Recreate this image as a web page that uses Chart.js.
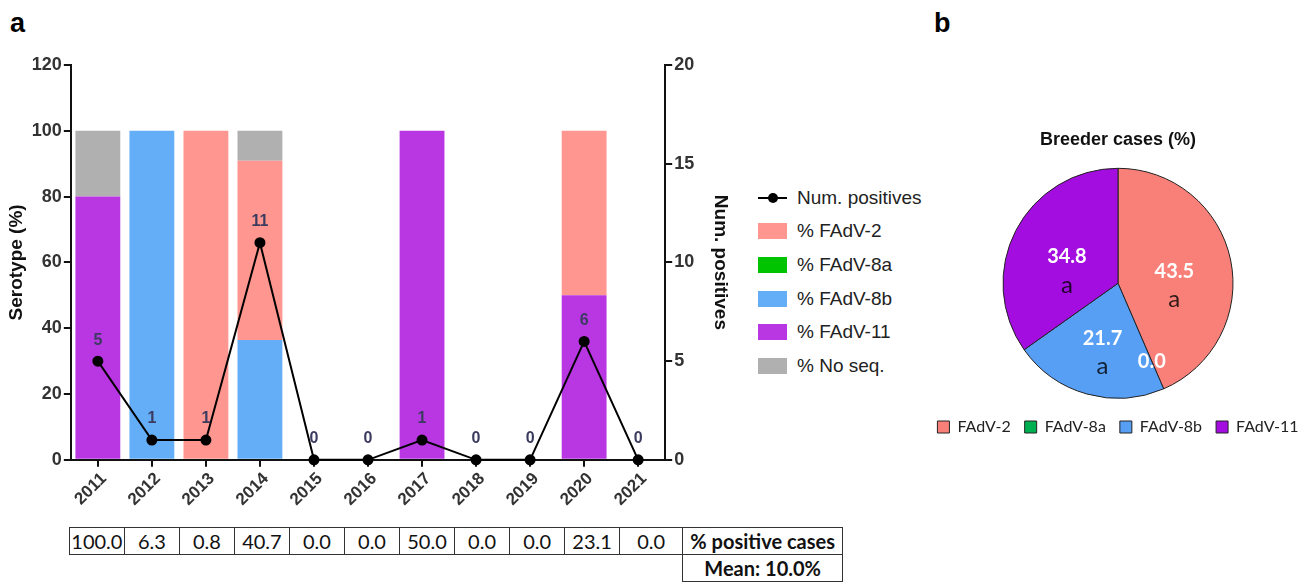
<!DOCTYPE html>
<html>
<head>
<meta charset="utf-8">
<script src="https://cdn.jsdelivr.net/npm/chart.js@4.4.1/dist/chart.umd.min.js"></script>
<style>
    body { margin: 0; background: #fff; width: 1315px; height: 583px; position: relative; overflow: hidden; font-family: "Liberation Sans", Arial, sans-serif; }
    .panel { position: absolute; font-weight: bold; font-size: 27px; color: #000; }
    canvas { position: absolute; }
    #legendA { position: absolute; left: 758px; top: 181px; }
    .item { height: 33.6px; display: flex; align-items: center; font-size: 19px; color: #222; }
    .swatch { width: 29px; height: 16px; margin-right: 10px; }
    .lineIcon { width: 29px; height: 2px; background: #000; position: relative; margin-right: 10px; }
    .lineIcon::after { content: ""; position: absolute; left: 10px; top: -4px; width: 10px; height: 10px; border-radius: 50%; background: #000; }
    #posTable { position: absolute; top: 527px; border-collapse: collapse; table-layout: fixed; font-family: Lato, "Open Sans", sans-serif; font-size: 20px; color: #111; }
    #posTable td { border: 1.5px solid #333; text-align: center; height: 26px; padding: 0; white-space: nowrap; }
    #posTable td.blank { border: none; }
    #posTable td.bold { font-weight: bold; }
</style>
</head>
<body>
<div class="panel" style="left:10px; top:8px;">a</div>
<div class="panel" style="left:934px; top:8px;">b</div>

<canvas id="barChart" width="740" height="527" style="left:0; top:0;"></canvas>
<div id="legendA"></div>
<table id="posTable"></table>

<canvas id="pieChart" width="410" height="445" style="left:905px; top:0;"></canvas>

<script>
// ---------------- DATA ----------------
const years = ["2011", "2012", "2013", "2014", "2015", "2016", "2017", "2018", "2019", "2020", "2021"];
const numPositives = [5, 1, 1, 11, 0, 0, 1, 0, 0, 6, 0];
const pctFAdV2  = [0, 0, 100, 54.5, 0, 0, 0, 0, 0, 50, 0];
const pctFAdV8a = [0, 0, 0, 0, 0, 0, 0, 0, 0, 0, 0];
const pctFAdV8b = [0, 100, 0, 36.4, 0, 0, 0, 0, 0, 0, 0];
const pctFAdV11 = [80, 0, 0, 0, 0, 0, 100, 0, 0, 50, 0];
const pctNoSeq  = [20, 0, 0, 9.1, 0, 0, 0, 0, 0, 0, 0];
const positiveCases = ["100.0", "6.3", "0.8", "40.7", "0.0", "0.0", "50.0", "0.0", "0.0", "23.1", "0.0"];
const meanPositive = "Mean: 10.0%";

const pieLabels = ["FAdV-2", "FAdV-8a", "FAdV-8b", "FAdV-11"];
const pieValues = [43.5, 0.0, 21.7, 34.8];
const pieLetters = ["a", "", "a", "a"];

// ---------------- COLOURS ----------------
const barColors = { "FAdV-2": "#ff968f", "FAdV-8a": "#00c400", "FAdV-8b": "#64aef8", "FAdV-11": "#b937e3", "No seq.": "#b0b0b0" };
const pieColors = ["#f98078", "#00b050", "#569ff5", "#a30de0"];

// ---------------- PLUGINS ----------------
const pointLabels = {
    id: "pointLabels",
    afterDatasetsDraw(chart) {
        const idx = chart.data.datasets.findIndex(d => d.type === "line");
        const meta = chart.getDatasetMeta(idx);
        const ctx = chart.ctx;
        ctx.save();
        ctx.font = 'bold 16px "Liberation Sans"';
        ctx.fillStyle = "#3b3b60";
        ctx.textAlign = "center";
        ctx.textBaseline = "middle";
        meta.data.forEach((pt, i) => ctx.fillText(numPositives[i], pt.x, pt.y - 21));
        ctx.restore();
    }
};

const pieValueLabels = {
    id: "pieValueLabels",
    afterDatasetsDraw(chart) {
        const ctx = chart.ctx;
        ctx.save();
        ctx.textAlign = "center";
        ctx.textBaseline = "middle";
        chart.getDatasetMeta(0).data.forEach((arc, i) => {
            const p = arc.getProps(["x", "y", "startAngle", "endAngle", "outerRadius"]);
            const mid = (p.startAngle + p.endAngle) / 2;
            const r = pieValues[i] > 0 ? p.outerRadius * 0.5 : p.outerRadius * 0.74;
            const cx = p.x + Math.cos(mid) * r;
            const cy = p.y + Math.sin(mid) * r;
            ctx.font = "bold 20px Lato";
            ctx.fillStyle = "#fff";
            ctx.fillText(pieValues[i].toFixed(1), cx, cy);
            if (pieLetters[i]) {
                ctx.font = "24px Lato";
                ctx.fillStyle = "rgba(0,0,0,0.8)";
                ctx.fillText(pieLetters[i], cx, cy + 28);
            }
        });
        ctx.restore();
    }
};

// ---------------- BAR + LINE CHART ----------------
const axisColor = "#111";
const tickFont = { family: "Liberation Sans", size: 18, weight: "bold" };
const titleFont = { family: "Liberation Sans", size: 19, weight: "bold" };

const barSeries = [
    ["% FAdV-8b", pctFAdV8b, barColors["FAdV-8b"]],
    ["% FAdV-11", pctFAdV11, barColors["FAdV-11"]],
    ["% FAdV-8a", pctFAdV8a, barColors["FAdV-8a"]],
    ["% FAdV-2", pctFAdV2, barColors["FAdV-2"]],
    ["% No seq.", pctNoSeq, barColors["No seq."]]
];

const barChart = new Chart("barChart", {
    data: {
        labels: years,
        datasets: [
            {
                type: "line",
                label: "Num. positives",
                data: numPositives,
                yAxisID: "y1",
                borderColor: "#000",
                backgroundColor: "#000",
                borderWidth: 2,
                pointRadius: 4.5,
                tension: 0,
                order: 0,
                clip: false
            },
            ...barSeries.map(([label, data, color]) => ({
                type: "bar",
                label: label,
                data: data,
                yAxisID: "y",
                backgroundColor: color,
                borderWidth: 0,
                barPercentage: 0.83,
                categoryPercentage: 1,
                order: 2
            }))
        ]
    },
    options: {
        responsive: false,
        animation: false,
        layout: { padding: { top: 65, left: 3, right: 2, bottom: 15 } },
        plugins: { legend: { display: false }, tooltip: { enabled: false } },
        scales: {
            x: {
                stacked: true,
                grid: { display: true, offset: false, drawOnChartArea: false, drawTicks: true, tickLength: 7, color: axisColor, lineWidth: 2 },
                border: { display: true, color: axisColor, width: 2 },
                ticks: { font: { family: "Liberation Sans", size: 17, weight: "bold" }, color: "#333", maxRotation: 45, minRotation: 45, padding: 2, labelOffset: 6 }
            },
            y: {
                stacked: true,
                position: "left",
                min: 0,
                max: 120,
                grid: { display: true, drawOnChartArea: false, drawTicks: true, tickLength: 7, color: axisColor, lineWidth: 2 },
                border: { display: true, color: axisColor, width: 2 },
                ticks: { stepSize: 20, font: tickFont, color: "#333", padding: 2 },
                title: { display: true, text: "Serotype (%)", font: titleFont, color: "#111", padding: { top: 2, bottom: 2 } }
            },
            y1: {
                position: "right",
                min: 0,
                max: 20,
                grid: { display: true, drawOnChartArea: false, drawTicks: true, tickLength: 7, color: axisColor, lineWidth: 2 },
                border: { display: true, color: axisColor, width: 2 },
                ticks: { stepSize: 5, font: tickFont, color: "#333", padding: 2 },
                title: { display: true, text: "Num. positives", font: titleFont, color: "#111", padding: { top: 6, bottom: 13 } }
            }
        }
    },
    plugins: [pointLabels]
});

// -------------------- LEGEND (a) --------------------
const legendA = document.getElementById("legendA");
const legendItems = [["line", "Num. positives"]].concat(
    ["FAdV-2", "FAdV-8a", "FAdV-8b", "FAdV-11", "No seq."].map(k => [barColors[k], "% " + k])
);
legendItems.forEach(([color, text]) => {
    const row = document.createElement("div");
    row.className = "item";
    const icon = document.createElement("div");
    if (color === "line") {
        icon.className = "lineIcon";
    } else {
        icon.className = "swatch";
        icon.style.background = color;
    }
    row.appendChild(icon);
    row.appendChild(document.createTextNode(text));
    legendA.appendChild(row);
});

// -------------------- TABLE --------------------
const xScale = barChart.scales.x;
const catW = (xScale.right - xScale.left) / years.length;
const table = document.getElementById("posTable");
table.style.left = (xScale.left - 2) + "px";

const r1 = table.insertRow();
const r2 = table.insertRow();
positiveCases.forEach((v, i) => {
    const w = (i === positiveCases.length - 1 ? catW + 8 : catW) + "px";
    const c = r1.insertCell();
    c.textContent = v;
    c.style.width = w;
    const b = r2.insertCell();
    b.className = "blank";
    b.style.width = w;
});
const lab = r1.insertCell();
lab.textContent = "% positive cases";
lab.className = "bold";
lab.style.width = "159px";
const mean = r2.insertCell();
mean.textContent = meanPositive;
mean.className = "bold";

// -------------------- PIE --------------------
new Chart("pieChart", {
    type: "pie",
    data: {
        labels: pieLabels,
        datasets: [{
            data: pieValues,
            backgroundColor: pieColors,
            borderColor: "#222",
            borderWidth: 1
        }]
    },
    options: {
        responsive: false,
        animation: false,
        radius: 115,
        layout: { padding: { left: 16, right: 0 } },
        plugins: {
            title: {
                display: true,
                text: "Breeder cases (%)",
                font: { family: "Liberation Sans", size: 18, weight: "bold" },
                color: "#111",
                padding: { top: 129, bottom: 11 }
            },
            legend: {
                position: "bottom",
                labels: { boxWidth: 12, boxHeight: 12, padding: 14, font: { family: "Lato", size: 16 }, color: "#222" }
            },
            tooltip: { enabled: false }
        }
    },
    plugins: [pieValueLabels]
});
</script>
</body>
</html>
